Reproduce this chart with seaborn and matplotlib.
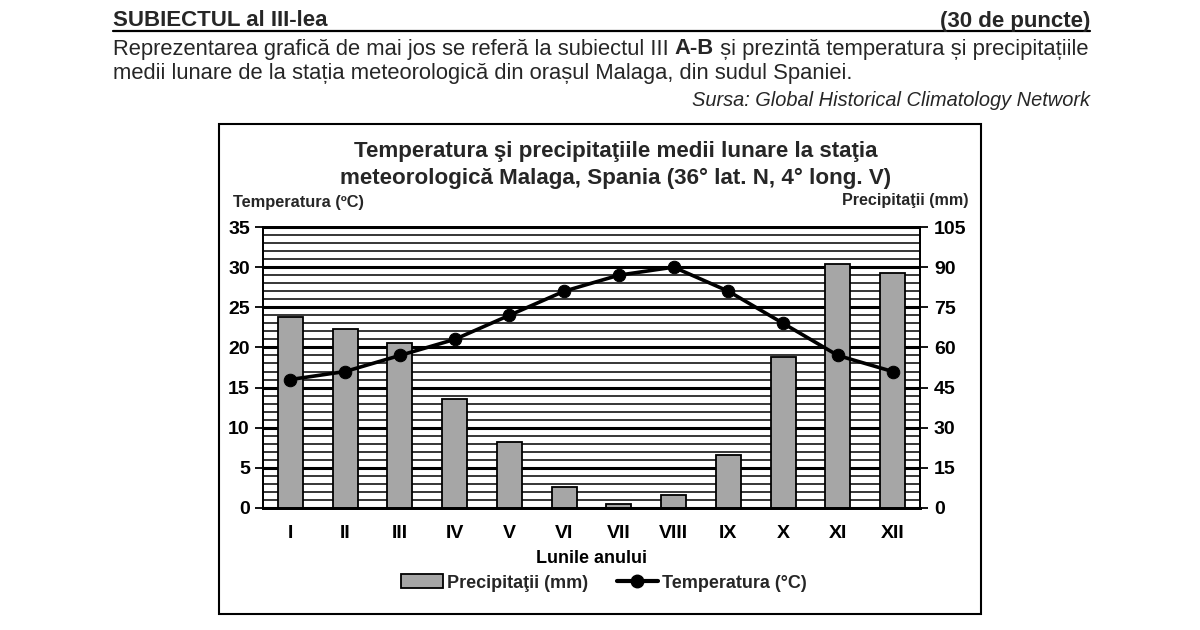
import numpy as np
import pandas as pd
import seaborn as sns
import matplotlib.pyplot as plt
from matplotlib.patches import Patch
from matplotlib.lines import Line2D

# Date lunare, statia Malaga
luni = ["I", "II", "III", "IV", "V", "VI", "VII", "VIII", "IX", "X", "XI", "XII"]
temperatura = [16, 17, 19, 21, 24, 27, 29, 30, 27, 23, 19, 17]
precipitatii = [71.5, 66.8, 61.8, 40.6, 24.8, 7.7, 1.5, 4.9, 19.8, 56.6, 91, 87.7]

df = pd.DataFrame({"luna": luni, "temp": temperatura, "prec": precipitatii})

sns.set_theme(style="white")
plt.rcParams["font.family"] = ["Liberation Sans", "DejaVu Sans"]

W, H = 1200, 630
fig = plt.figure(figsize=(12, 6.3), dpi=100)
renderer = fig.canvas.get_renderer()


def fx(px):
    return px / W


def fy(py):
    return 1 - py / H


def text_run(x, y, parts, size):
    # scrie bucati de text una dupa alta (normal / bold)
    for txt, weight in parts:
        t = fig.text(fx(x), fy(y), txt, fontsize=size, fontweight=weight, va="center", ha="left")
        bb = t.get_window_extent(renderer)
        x += bb.width


# === TEXT ANTET ===
fig.text(fx(113), fy(21), "SUBIECTUL al III-lea", fontsize=16, fontweight="bold",
         va="center", ha="left")
fig.text(fx(1090), fy(21), "(30 de puncte)", fontsize=16, fontweight="bold",
         va="center", ha="right")
fig.add_artist(Line2D([fx(113), fx(1090)], [fy(31), fy(31)], color="black", lw=1.6,
                      transform=fig.transFigure))
text_run(113, 49, [("Reprezentarea grafică de mai jos se referă la subiectul III ", "normal"),
                   ("A-B", "bold"),
                   (" și prezintă temperatura și precipitațiile", "normal")], 15.85)
fig.text(fx(113), fy(74),
         "medii lunare de la stația meteorologică din orașul Malaga, din sudul Spaniei.",
         fontsize=15.85, va="center", ha="left")
fig.text(fx(1090), fy(101), "Sursa: Global Historical Climatology Network",
         fontsize=14.4, style="italic", va="center", ha="right")

# chenarul graficului
fig.add_artist(plt.Rectangle((fx(219), fy(614)), (981 - 219) / W, (614 - 124) / H,
                             fill=False, edgecolor="black", lw=1.5, transform=fig.transFigure))

# === GRAFIC ===
ax_p = fig.add_axes([fx(263), fy(508), (920 - 263) / W, (508 - 227) / H])
ax_t = ax_p.twinx()

sns.barplot(data=df, x="luna", y="prec", ax=ax_p, color="#a6a6a6", edgecolor="black",
            linewidth=1.3, width=0.46, saturation=1, zorder=3)
ax_p.set_ylim(0, 105)
ax_p.set_xlim(-0.5, 11.5)
ax_p.set_yticks(range(0, 106, 15))
ax_p.set_yticks(range(0, 106, 3), minor=True)
ax_p.yaxis.grid(True, which="major", color="black", lw=2.2, zorder=0)
ax_p.yaxis.grid(True, which="minor", color="black", lw=1.1, zorder=0)
ax_p.set_axisbelow(True)
ax_p.yaxis.tick_right()
ax_p.yaxis.set_label_position("right")
ax_p.tick_params(axis="y", which="major", direction="out", length=6, width=1.3, colors="black",
                 labelsize=14, pad=4)
ax_p.tick_params(axis="y", which="minor", length=0)
ax_p.tick_params(axis="x", length=0, labelsize=14, pad=12)
ax_p.set_ylabel("")
ax_p.set_xlabel("Lunile anului", fontsize=13, fontweight="bold", labelpad=6, color="black")

sns.lineplot(data=df, x="luna", y="temp", ax=ax_t, color="black", lw=2.6, marker="o",
             markersize=9, markeredgecolor="black", sort=False)
ax_t.set_ylim(0, 35)
ax_t.set_yticks(range(0, 36, 5))
ax_t.yaxis.tick_left()
ax_t.tick_params(axis="y", direction="out", length=6, width=1.3, colors="black",
                 labelsize=14, pad=3.5)
ax_t.set_ylabel("")

for a in (ax_p, ax_t):
    for s in a.spines.values():
        s.set_color("black")
        s.set_linewidth(1.3)
    a.spines["bottom"].set_linewidth(2)
    for lab in a.get_xticklabels() + a.get_yticklabels():
        lab.set_fontweight("bold")
        lab.set_color("black")

fig.text(fx(616), fy(152), "Temperatura şi precipitaţiile medii lunare la staţia",
         fontsize=16.1, fontweight="bold", ha="center", va="center")
fig.text(fx(616), fy(178), "meteorologică Malaga, Spania (36° lat. N, 4° long. V)",
         fontsize=16.1, fontweight="bold", ha="center", va="center")
fig.text(fx(233), fy(202), "Temperatura (ºC)", fontsize=11.8, fontweight="bold",
         ha="left", va="center")
fig.text(fx(968), fy(200), "Precipitaţii (mm)", fontsize=11.6, fontweight="bold",
         ha="right", va="center")

handles = [Patch(facecolor="#a6a6a6", edgecolor="black", lw=1.3),
           Line2D([], [], color="black", lw=3, marker="o", markersize=9)]
fig.legend(handles, ["Precipitaţii (mm)", "Temperatura (°C)"], loc="center",
           bbox_to_anchor=(fx(604), fy(583)), ncol=2, frameon=False,
           prop={"size": 13, "weight": "bold"}, handlelength=2.3, handleheight=0.8,
           handletextpad=0.2, columnspacing=1.6)

plt.savefig("out.png", dpi=100)
